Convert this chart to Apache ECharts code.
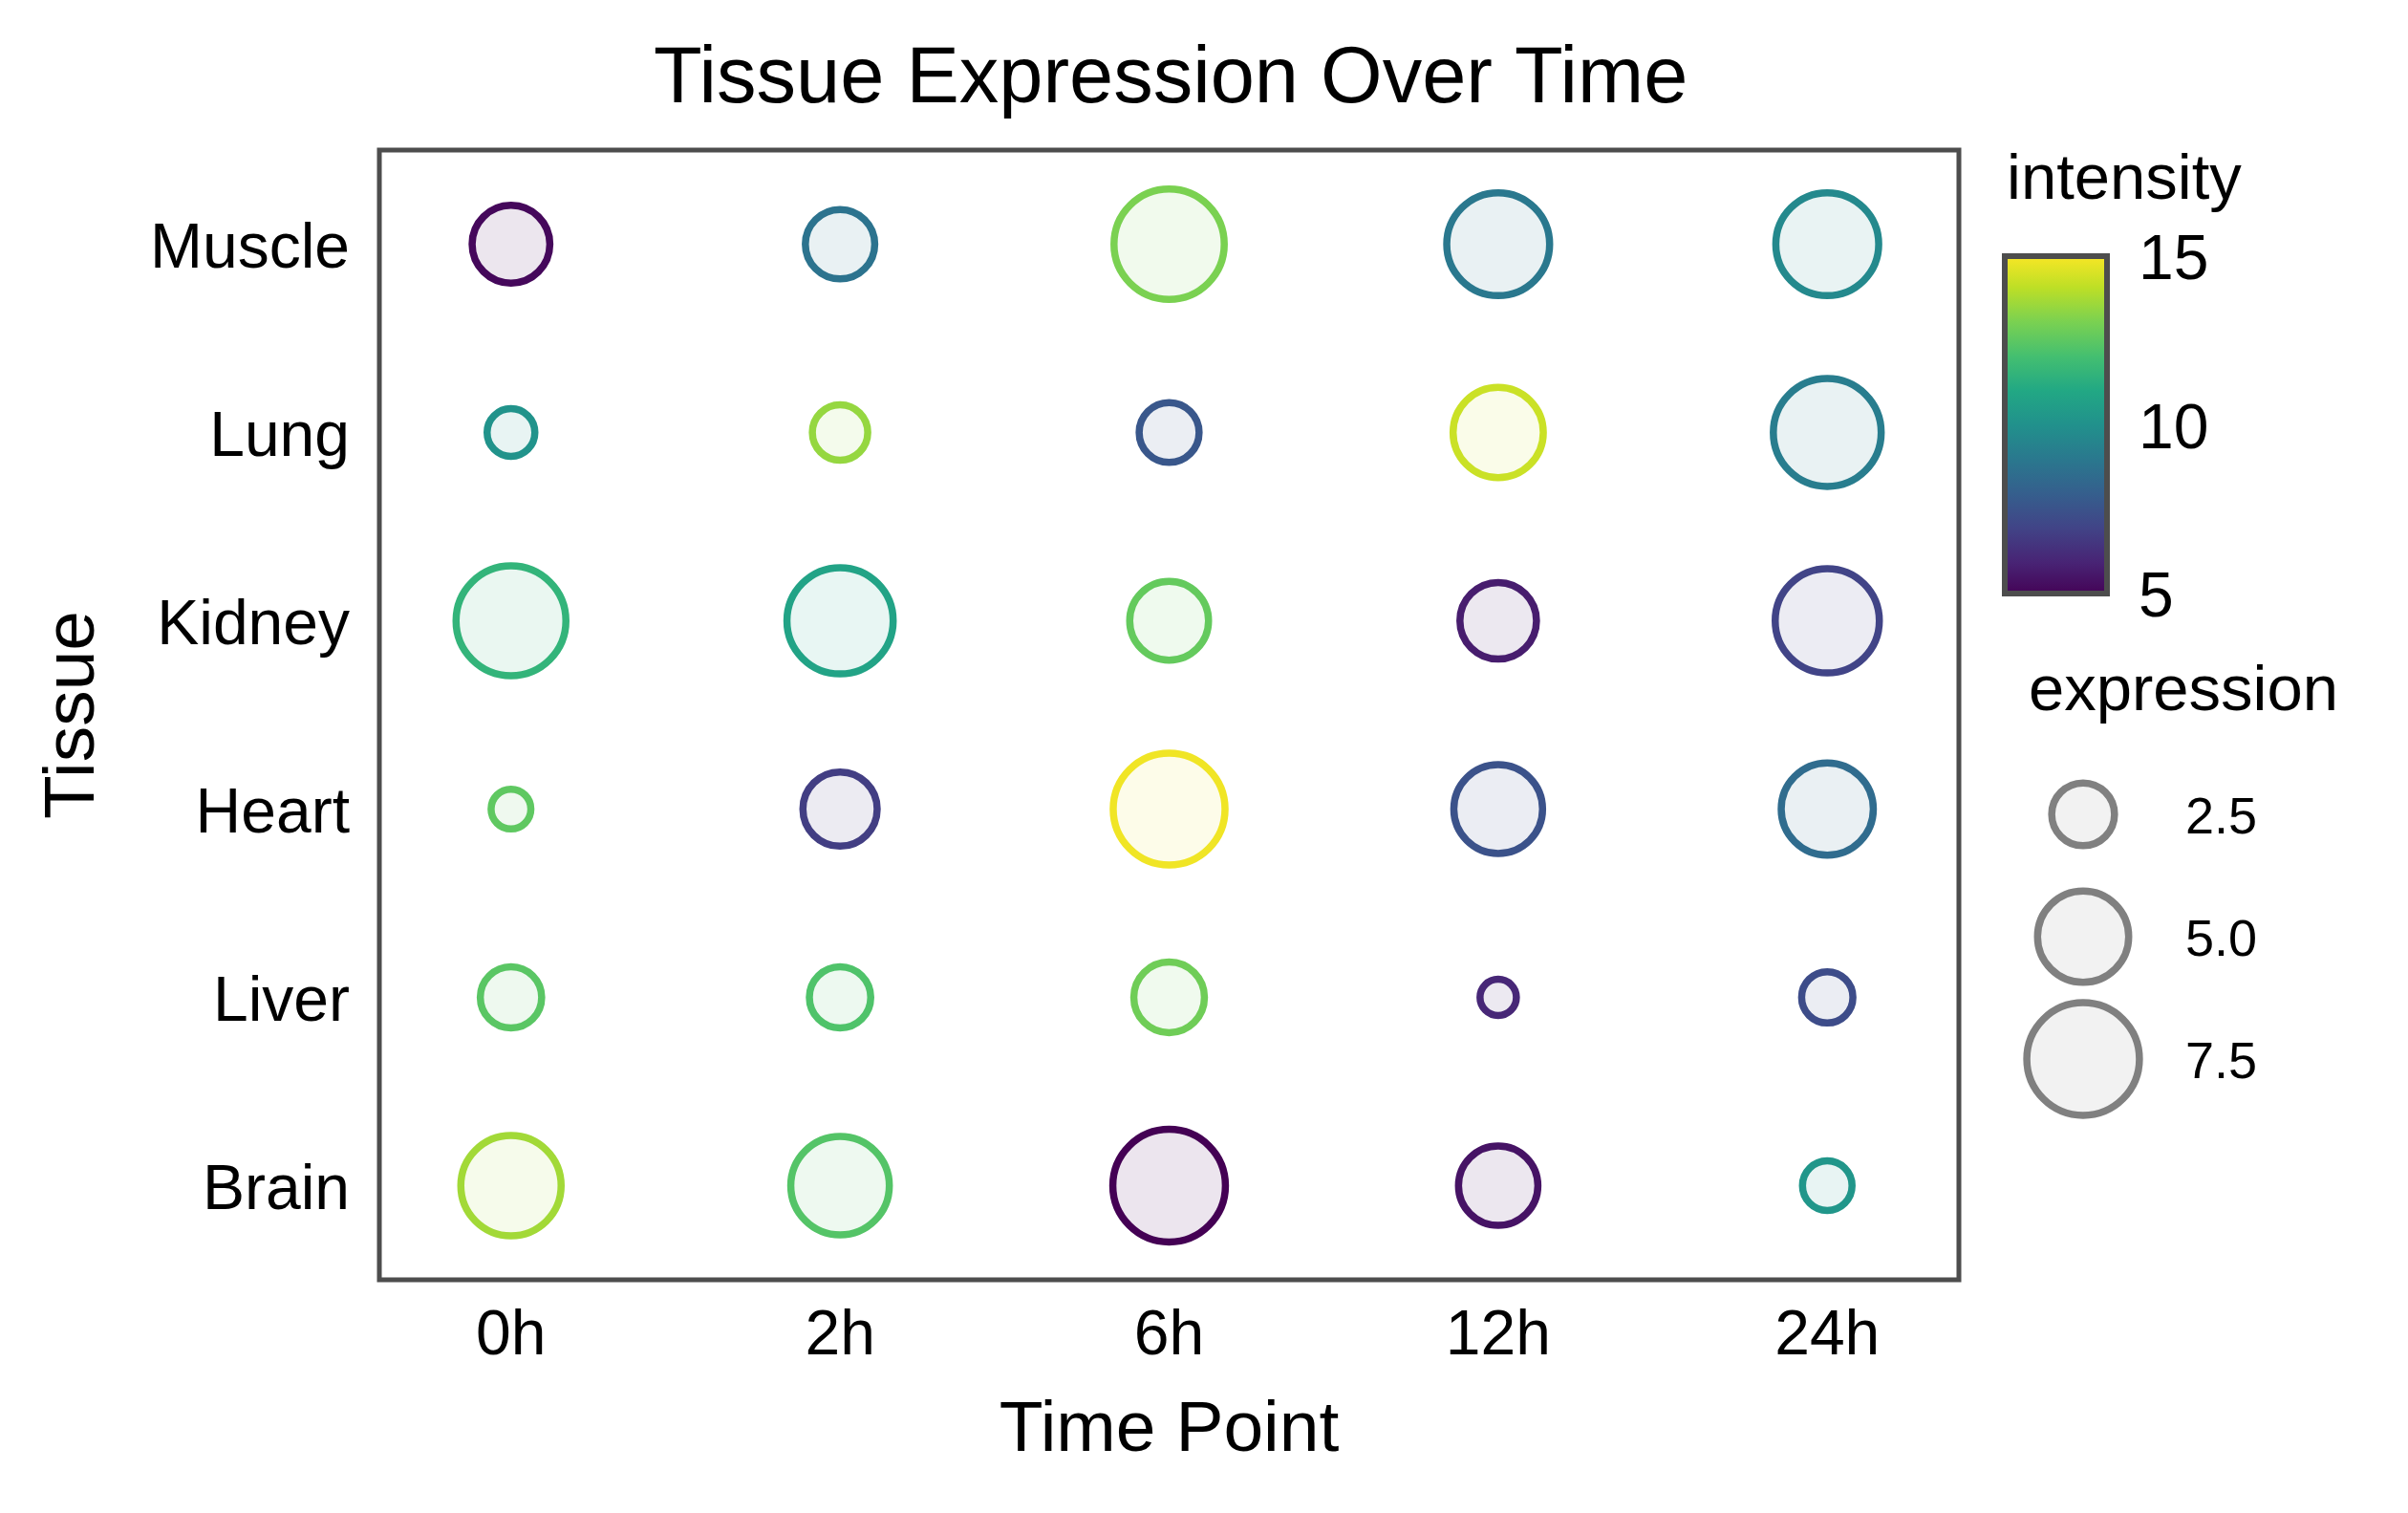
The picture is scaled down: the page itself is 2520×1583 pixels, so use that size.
<!DOCTYPE html>
<html><head><meta charset="utf-8">
<script src="https://cdn.jsdelivr.net/npm/echarts@6/dist/echarts.min.js"></script>
<style>html,body{margin:0;padding:0;background:#fff}#c{width:2520px;height:1583px}</style>
</head><body><div id="c"></div>
<script>
// ---- data ----
const timePoints = ['0h', '2h', '6h', '12h', '24h'];
const tissues = ['Brain', 'Liver', 'Heart', 'Kidney', 'Lung', 'Muscle']; // bottom -> top

const exprBrain  = [6.0, 5.8, 7.5, 3.85, 1.65];
const exprLiver  = [2.4, 2.4, 3.1, 1.0, 1.75];
const exprHeart  = [1.15, 3.4, 7.4, 4.75, 5.1];
const exprKidney = [7.15, 6.7, 3.8, 3.6, 6.45];
const exprLung   = [1.55, 2.0, 2.3, 4.9, 6.9];
const exprMuscle = [3.7, 3.0, 7.2, 6.3, 6.3];

const intBrain  = [13.6, 12.3, 5.0, 5.5, 10.2];
const intLiver  = [12.4, 12.2, 12.8, 6.1, 7.3];
const intHeart  = [12.5, 6.8, 14.8, 7.5, 8.5];
const intKidney = [11.5, 10.8, 12.6, 5.8, 7.0];
const intLung   = [10.1, 13.4, 7.7, 14.2, 9.2];
const intMuscle = [5.2, 8.8, 13.0, 9.0, 9.7];

const colorbarTicks = [5, 10, 15];
const sizeLegendValues = [2.5, 5.0, 7.5];

// ---- styling helpers ----
const viridis = ['#440154', '#482475', '#414487', '#355f8d', '#2a788e', '#21918c',
                 '#22a884', '#44bf70', '#7ad151', '#bddf26', '#fde725'];
const intMin = 5, intMax = 15;
function sizeOf(e) { return Math.sqrt(Math.max(1914 * e - 466, 100)); }
function colorOf(v) { return echarts.color.lerp((v - intMin) / (intMax - intMin), viridis); }

const exprRows = [exprBrain, exprLiver, exprHeart, exprKidney, exprLung, exprMuscle];
const intRows = [intBrain, intLiver, intHeart, intKidney, intLung, intMuscle];

const mainData = [];
tissues.forEach((t, ri) => {
  timePoints.forEach((tp, ti) => {
    const c = colorOf(intRows[ri][ti]);
    mainData.push({
      value: [ti, ri, exprRows[ri][ti], intRows[ri][ti]],
      itemStyle: { color: echarts.color.modifyAlpha(c, 0.1), borderColor: c, borderWidth: 7.5, opacity: 1 }
    });
  });
});

const FONT = 'Liberation Sans, Arial, Helvetica, sans-serif';
const stops = viridis.map((c, i) => ({ offset: i / (viridis.length - 1), color: c }));

const chart = echarts.init(document.getElementById('c'), null, { renderer: 'canvas' });
chart.setOption({
  animation: false,
  backgroundColor: '#fff',
  textStyle: { fontFamily: FONT },
  title: [
    { text: 'Tissue Expression Over Time', left: 684, top: 43, padding: 0,
      textStyle: { fontSize: 83, fontWeight: 'normal', color: '#000', fontFamily: FONT } },
    { text: 'intensity', left: 2100, top: 156, padding: 0,
      textStyle: { fontSize: 67, fontWeight: 'normal', color: '#000', fontFamily: FONT } },
    { text: 'expression', left: 2123, top: 691, padding: 0,
      textStyle: { fontSize: 67, fontWeight: 'normal', color: '#000', fontFamily: FONT } }
  ],
  grid: [
    { left: 397, top: 157, width: 1653, height: 1182, show: true, borderColor: '#4d4d4d', borderWidth: 5,
      backgroundColor: 'transparent', containLabel: false, outerBoundsMode: 'none' },
    { left: 2098, top: 268, width: 107, height: 353, show: true, borderColor: '#4d4d4d', borderWidth: 6,
      backgroundColor: new echarts.graphic.LinearGradient(0, 1, 0, 0, stops), containLabel: false, outerBoundsMode: 'none' },
    { left: 2120, top: 724, width: 120, height: 512, show: false, containLabel: false, outerBoundsMode: 'none' }
  ],
  xAxis: [
    { gridIndex: 0, type: 'value', min: -0.4, max: 4.4,
      axisLine: { show: false }, axisTick: { show: false }, splitLine: { show: false },
      axisLabel: { customValues: [0, 1, 2, 3, 4], formatter: v => timePoints[Math.round(v)],
        fontSize: 66, margin: 27, color: '#000', fontFamily: FONT },
      name: 'Time Point', nameLocation: 'middle', nameGap: 121,
      nameTextStyle: { fontSize: 75, color: '#000', fontFamily: FONT } },
    { gridIndex: 1, type: 'value', show: false, min: 0, max: 1 },
    { gridIndex: 2, type: 'value', show: false, min: -1, max: 1 }
  ],
  yAxis: [
    { gridIndex: 0, type: 'value', min: -0.5, max: 5.5,
      axisLine: { show: false }, axisTick: { show: false }, splitLine: { show: false },
      axisLabel: { customValues: [0, 1, 2, 3, 4, 5], formatter: v => tissues[Math.round(v)],
        fontSize: 66, margin: 31, color: '#000', fontFamily: FONT, verticalAlign: 'top', lineHeight: 12 },
      name: 'Tissue', nameLocation: 'middle', nameRotate: 90, nameGap: 282,
      nameTextStyle: { fontSize: 75, color: '#000', fontFamily: FONT } },
    { gridIndex: 1, type: 'value', min: 5, max: 15, interval: 5, position: 'right',
      axisLine: { show: false }, axisTick: { show: false }, splitLine: { show: false },
      axisLabel: { customValues: colorbarTicks, fontSize: 66, margin: 33, color: '#000', fontFamily: FONT,
        verticalAlign: 'top', lineHeight: 12 } },
    { gridIndex: 2, type: 'value', min: 0, max: 10, inverse: true, position: 'right',
      axisLine: { show: false }, axisTick: { show: false }, splitLine: { show: false },
      axisLabel: { customValues: sizeLegendValues, formatter: v => v.toFixed(1),
        fontSize: 54, margin: 47, color: '#000', fontFamily: FONT, verticalAlign: 'top', lineHeight: 10 } }
  ],
  series: [
    { type: 'scatter', xAxisIndex: 0, yAxisIndex: 0, silent: true, symbol: 'circle',
      symbolSize: v => sizeOf(v[2]), data: mainData },
    { type: 'scatter', xAxisIndex: 2, yAxisIndex: 2, silent: true, symbol: 'circle',
      symbolSize: v => sizeOf(v[1]),
      itemStyle: { color: 'rgba(128,128,128,0.1)', borderColor: '#808080', borderWidth: 7.5, opacity: 1 },
      data: sizeLegendValues.map(v => [0, v]) }
  ]
});
</script>
</body></html>
